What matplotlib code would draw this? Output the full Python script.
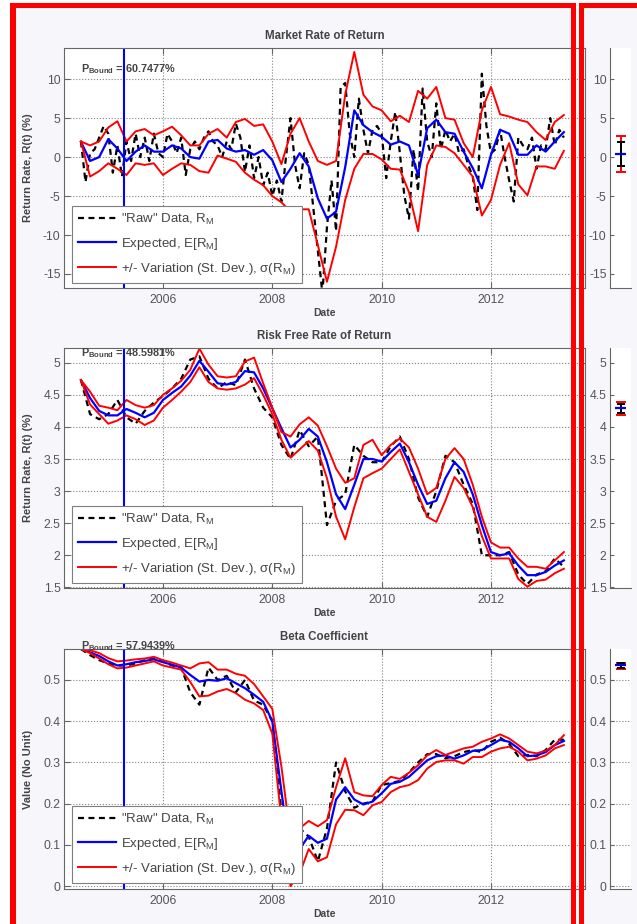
import numpy as np
import matplotlib
matplotlib.use("Agg")
import matplotlib.pyplot as plt
from matplotlib.patches import Rectangle
from matplotlib.lines import Line2D
from matplotlib.ticker import FuncFormatter
import matplotlib.transforms as mtransforms

plt.rcParams['font.family'] = ['Liberation Sans', 'DejaVu Sans']
plt.rcParams['mathtext.fontset'] = 'custom'
plt.rcParams['mathtext.rm'] = 'Liberation Sans'
plt.rcParams['mathtext.it'] = 'Liberation Sans:italic'
plt.rcParams['mathtext.bf'] = 'Liberation Sans:bold'
plt.rcParams['axes.unicode_minus'] = False

# Dates en annees decimales (mensuel pour la serie brute du marche, bimestriel sinon)
mois = 2004.5 + np.arange(107) / 12.0
bimois = 2004.5 + np.arange(54) / 6.0
date_borne = 2005.29

# --- Market Rate of Return ---
raw_mkt = [2.0, -3.2, 0.5, 1.0, 2.5, 4.0, 3.0, -2.0, 1.5, -2.5,
           2.0, -0.5, 3.0, 0.0, 2.5, -0.5, 3.0, 0.5, 0.0, 3.0,
           2.0, 0.5, 2.5, -2.3, 1.0, 2.0, 1.0, 2.5, 3.3, 2.0,
           1.5, 0.0, 2.0, 1.0, 4.3, 2.5, -1.9, 1.5, -2.7, 0.0,
           -3.6, -2.0, -5.0, -3.0, -5.7, 0.0, 5.0, -1.0, -4.0, 0.5,
           -1.0, -6.5, -12.0, -17.5, -9.0, -3.0, -9.5, 9.0, 9.5, 3.0,
           0.0, 7.5, 3.5, 0.5, 3.5, 4.0, 3.0, -2.7, 2.0, 5.8,
           0.5, -5.0, -7.9, 1.0, -4.4, 8.8, 2.0, 0.0, 6.9, 1.0,
           3.5, 2.0, 3.0, 0.5, 1.0, -1.0, -2.5, -6.8, 10.7, 4.0,
           0.5, 1.0, 3.5, 0.0, -3.0, -5.7, 2.5, 1.5, 1.0, 2.5,
           -1.5, 1.5, 1.0, 5.0, 1.5, 3.5, 2.5]
exp_mkt = [1.97, -0.5, 0.0, 2.3, 1.1, -0.5, 0.7, 1.5, 0.7, 0.7,
           1.5, 1.1, 0.0, -0.2, 2.0, 2.2, 1.1, 0.7, 0.9, 0.3,
           0.9, -0.4, -3.2, -1.5, 0.5, -1.2, -5.3, -7.9, -7.0, -1.3,
           6.0, 4.1, 3.2, 2.6, 1.6, 2.0, 1.5, -2.3, 3.7, 4.8,
           3.2, 3.0, 0.7, -1.4, -4.0, 0.3, 3.5, 3.0, 0.3, 0.3,
           1.5, 0.7, 2.0, 3.2]
up_mkt = [2.0, 1.5, 2.0, 3.8, 4.6, 2.0, 3.3, 3.6, 2.8, 3.3,
          3.9, 2.8, 1.5, 1.5, 3.0, 3.6, 2.5, 4.5, 4.9, 4.0,
          4.2, 2.0, -0.9, 3.0, 5.0, 2.0, -0.5, -1.0, -0.5, 8.0,
          13.5, 8.0, 6.5, 6.0, 4.6, 5.3, 4.5, 8.5, 7.5, 9.0,
          5.0, 4.8, 1.8, 0.0, 6.0, 9.0, 5.5, 5.2, 4.8, 4.5,
          3.2, 2.2, 4.5, 5.4]
low_mkt = [2.0, -2.5, -1.8, -0.8, -1.5, -2.3, -0.8, -1.0, -0.8, -2.3,
           -1.5, -0.8, -1.0, -1.8, -2.0, 0.2, -0.2, -0.6, -2.0, -2.9,
           -3.6, -5.0, -5.8, -7.0, -6.7, -6.7, -11.3, -16.0, -11.5, -5.5,
           -1.5, 0.4, 0.4, -0.3, -1.5, -1.6, -4.5, -9.5, -1.0, 1.5,
           1.3, 0.5, -1.0, -2.5, -7.5, -5.5, -1.0, 1.8, -3.5, -4.9,
           -1.2, -1.2, -1.5, 0.8]

# --- Risk Free Rate of Return ---
raw_rf = [4.73, 4.20, 4.12, 4.20, 4.42, 4.15, 4.05, 4.25, 4.38, 4.48,
          4.60, 4.75, 5.05, 5.10, 4.75, 4.60, 4.70, 4.65, 5.05, 4.60,
          4.30, 4.15, 3.72, 3.50, 3.95, 3.70, 3.85, 2.47, 2.85, 2.95,
          3.72, 3.55, 3.45, 3.45, 3.70, 3.85, 3.50, 2.90, 2.60, 3.00,
          3.55, 3.45, 3.10, 2.80, 2.00, 2.00, 2.00, 2.05, 1.70, 1.55,
          1.70, 1.75, 1.95, 1.82]
exp_rf = [4.73, 4.45, 4.25, 4.18, 4.18, 4.28, 4.22, 4.15, 4.22, 4.42,
          4.53, 4.63, 4.80, 5.03, 4.86, 4.68, 4.66, 4.70, 4.87, 4.85,
          4.60, 4.29, 3.98, 3.68, 3.80, 3.97, 3.85, 3.45, 2.95, 2.72,
          3.10, 3.50, 3.50, 3.46, 3.61, 3.74, 3.45, 3.10, 2.80, 2.85,
          3.20, 3.45, 3.30, 2.95, 2.47, 2.05, 2.00, 2.03, 1.84, 1.69,
          1.69, 1.74, 1.84, 1.92]
up_rf = [4.73, 4.55, 4.33, 4.30, 4.26, 4.42, 4.34, 4.30, 4.34, 4.50,
         4.60, 4.72, 4.89, 5.22, 4.97, 4.79, 4.77, 4.79, 5.02, 5.08,
         4.68, 4.30, 3.92, 3.85, 4.04, 4.15, 4.02, 3.70, 3.35, 3.13,
         3.20, 3.72, 3.80, 3.56, 3.72, 3.82, 3.68, 3.35, 2.95, 3.05,
         3.50, 3.67, 3.50, 3.10, 2.60, 2.20, 2.12, 2.12, 1.95, 1.82,
         1.82, 1.79, 1.92, 2.05]
low_rf = [4.73, 4.35, 4.20, 4.05, 4.10, 4.18, 4.12, 4.03, 4.10, 4.30,
          4.42, 4.55, 4.70, 4.93, 4.70, 4.60, 4.58, 4.60, 4.66, 4.76,
          4.50, 4.20, 3.80, 3.52, 3.65, 3.78, 3.63, 3.20, 2.60, 2.25,
          2.75, 3.20, 3.28, 3.35, 3.50, 3.65, 3.30, 2.95, 2.60, 2.52,
          2.85, 3.22, 3.05, 2.75, 2.30, 1.95, 1.95, 1.95, 1.63, 1.51,
          1.60, 1.62, 1.72, 1.79]

# --- Beta Coefficient ---
raw_beta = [0.575, 0.560, 0.548, 0.540, 0.535, 0.535, 0.540, 0.548, 0.552, 0.545,
            0.535, 0.530, 0.470, 0.440, 0.530, 0.500, 0.510, 0.470, 0.500, 0.450,
            0.440, 0.400, 0.180, 0.050, 0.140, 0.120, 0.060, 0.140, 0.300, 0.230,
            0.190, 0.200, 0.205, 0.245, 0.250, 0.255, 0.275, 0.300, 0.320, 0.320,
            0.310, 0.315, 0.325, 0.330, 0.325, 0.350, 0.360, 0.345, 0.315, 0.318,
            0.315, 0.330, 0.355, 0.355]
exp_beta = [0.575, 0.567, 0.558, 0.545, 0.535, 0.538, 0.543, 0.546, 0.550, 0.543,
            0.537, 0.530, 0.512, 0.496, 0.500, 0.498, 0.504, 0.492, 0.480, 0.464,
            0.447, 0.400, 0.230, 0.070, 0.090, 0.122, 0.105, 0.115, 0.210, 0.240,
            0.210, 0.198, 0.205, 0.225, 0.248, 0.253, 0.265, 0.285, 0.305, 0.315,
            0.317, 0.309, 0.317, 0.328, 0.330, 0.342, 0.355, 0.350, 0.334, 0.315,
            0.317, 0.325, 0.342, 0.352]
up_beta = [0.575, 0.572, 0.565, 0.553, 0.545, 0.547, 0.550, 0.552, 0.556, 0.548,
           0.542, 0.535, 0.528, 0.540, 0.543, 0.525, 0.525, 0.515, 0.510, 0.490,
           0.460, 0.430, 0.290, 0.120, 0.140, 0.158, 0.145, 0.160, 0.240, 0.310,
           0.228, 0.220, 0.218, 0.245, 0.265, 0.260, 0.275, 0.293, 0.317, 0.330,
           0.318, 0.326, 0.334, 0.338, 0.350, 0.358, 0.368, 0.358, 0.342, 0.326,
           0.322, 0.328, 0.342, 0.366]
low_beta = [0.575, 0.565, 0.552, 0.538, 0.528, 0.530, 0.535, 0.540, 0.545, 0.535,
            0.530, 0.525, 0.495, 0.460, 0.462, 0.472, 0.478, 0.468, 0.452, 0.443,
            0.427, 0.370, 0.160, 0.000, 0.030, 0.090, 0.060, 0.070, 0.150, 0.185,
            0.184, 0.172, 0.196, 0.204, 0.228, 0.240, 0.245, 0.257, 0.285, 0.301,
            0.305, 0.305, 0.297, 0.313, 0.313, 0.326, 0.334, 0.338, 0.326, 0.305,
            0.309, 0.317, 0.334, 0.342]

# Barres d'erreur des petits axes de droite: (bas, haut) et valeur centrale
sm_red = [(-1.9, 2.7), (4.19, 4.39), (0.527, 0.542)]
sm_black = [(-1.1, 1.95), (4.22, 4.36), (0.530, 0.540)]
sm_blue = [0.35, 4.30, 0.535]

titres = ['Market Rate of Return', 'Risk Free Rate of Return', 'Beta Coefficient']
ylabels = ['Return Rate, R(t) (%)', 'Return Rate, R(t) (%)', 'Value (No Unit)']
p_bound = ['60.7477%', '48.5981%', '57.9439%']
legendes = ['"Raw" Data, R$_\\mathrm{M}$', 'Expected, E[R$_\\mathrm{M}$]',
            '+/- Variation (St. Dev.), \u03c3(R$_\\mathrm{M}$)']

series = [
    (mois, raw_mkt, exp_mkt, up_mkt, low_mkt),
    (bimois, raw_rf, exp_rf, up_rf, low_rf),
    (bimois, raw_beta, exp_beta, up_beta, low_beta),
]
ylims = [(-16.8, 14.0), (1.49, 5.23), (-0.007, 0.575)]
yticks = [[-15, -10, -5, 0, 5, 10], [1.5, 2, 2.5, 3, 3.5, 4, 4.5, 5],
          [0, 0.1, 0.2, 0.3, 0.4, 0.5]]
tops = [48, 348, 649]
pb_y = [0.899, 0.964, 1.0]
leg_y = [0.021, 0.021, 0.025]

W, H = 637.0, 924.0
LAV = '#F7F7FB'
GRIS = '#555555'

fig = plt.figure(figsize=(W / 100, H / 100), dpi=100, facecolor='white')


def bande(x0, y0, x1, y1, couleur, z):
    fig.add_artist(Rectangle((x0 / W, 1 - y1 / H), (x1 - x0) / W, (y1 - y0) / H,
                             transform=fig.transFigure, facecolor=couleur,
                             edgecolor='none', zorder=z))


def axes_px(x0, y0, x1, y1):
    return fig.add_axes([x0 / W, 1 - y1 / H, (x1 - x0) / W, (y1 - y0) / H])


# fonds gris clair
bande(16, 8.3, 571, H, LAV, -10)
bande(583.5, 8.3, W, H, LAV, -10)
# cadres rouges (au dessus des axes)
for b in [(10, 3, 16, H), (10, 3, 576, 8.3), (571, 3, 576, H),
          (579, 3, W, 8.3), (579, 3, 583.5, H)]:
    bande(*b, '#FF0000', 20)

fmt = FuncFormatter(lambda v, p: '%g' % v)

for i in range(3):
    x_raw, raw, exp_, up, low = series[i]
    top = tops[i]
    ax = axes_px(64, top, 585, top + 240)
    ax.set_facecolor('white')

    l_raw, = ax.plot(x_raw, raw, color='black', lw=1.6, linestyle='--', dashes=(2.7, 2.0))
    l_exp, = ax.plot(bimois, exp_, color='#0000FF', lw=1.6)
    l_up, = ax.plot(bimois, up, color='#FF0000', lw=1.4)
    ax.plot(bimois, low, color='#FF0000', lw=1.4)
    ax.axvline(date_borne, color='#0000FF', lw=1.5)

    ax.set_xlim(2004.19, 2013.72)
    ax.set_ylim(*ylims[i])
    ax.set_xticks([2006, 2008, 2010, 2012])
    ax.set_yticks(yticks[i])
    ax.yaxis.set_major_formatter(fmt)
    ax.grid(True, linestyle=':', color='#808080', linewidth=0.8)
    ax.tick_params(direction='in', top=True, right=True, length=4, width=0.8,
                   color='#666666', labelcolor=GRIS, labelsize=8.8)
    ax.tick_params(axis='y', pad=2.5)
    ax.tick_params(axis='x', pad=4)
    for s in ax.spines.values():
        s.set_color('#666666')
        s.set_linewidth(0.8)

    ax.set_title(titres[i], fontsize=8.3, fontweight='bold', color='#444444', pad=6.5)
    ax.set_xlabel('Date', fontsize=7.5, fontweight='bold', color='#444444', labelpad=2)
    ax.set_ylabel(ylabels[i], fontsize=8.0, fontweight='bold', color='#444444')
    ax.yaxis.set_label_coords(-0.0595, 0.5)

    trans = mtransforms.blended_transform_factory(ax.transData, ax.transAxes)
    ax.text(bimois[0], pb_y[i], '$\\mathbf{P_{Bound}}$ = ' + p_bound[i], transform=trans,
            fontsize=7.8, fontweight='bold', color='#444444', ha='left', va='baseline',
            clip_on=False, zorder=5)

    leg = ax.legend([l_raw, l_exp, l_up], legendes, loc='lower left',
                    bbox_to_anchor=(0.0154, leg_y[i]), borderaxespad=0,
                    fancybox=False, framealpha=1, edgecolor='#7f7f7f',
                    fontsize=9.5, handlelength=2.9, handletextpad=0.35,
                    labelspacing=0.7, borderpad=0.45, labelcolor='#444444')
    leg.get_frame().set_linewidth(0.8)
    leg.set_zorder(10)

    # petit axe de droite
    sa = axes_px(610, top, 631, top + 240)
    sa.set_facecolor('white')
    lo, hi = sm_red[i]
    sa.errorbar([0], [sm_blue[i]], yerr=[[sm_blue[i] - lo], [hi - sm_blue[i]]],
                color='#FF0000', lw=1.4, capsize=3.5, capthick=1.4)
    lo, hi = sm_black[i]
    sa.errorbar([0], [sm_blue[i]], yerr=[[sm_blue[i] - lo], [hi - sm_blue[i]]],
                color='black', lw=1.4, capsize=3.0, capthick=1.4)
    sa.hlines([sm_blue[i]], -0.5, 0.5, color='#0000FF', lw=1.6, zorder=5)
    sa.set_xlim(-1, 1)
    sa.set_ylim(*ylims[i])
    sa.set_xticks([])
    sa.set_yticks(yticks[i])
    sa.yaxis.set_major_formatter(fmt)
    sa.tick_params(direction='in', length=3, width=0.8, color='#666666',
                   labelcolor=GRIS, labelsize=8.8, pad=2.5)
    for k in ['top', 'right']:
        sa.spines[k].set_visible(False)
    for k in ['left', 'bottom']:
        sa.spines[k].set_color('#666666')
        sa.spines[k].set_linewidth(0.8)
    if i == 2:
        sa.grid(True, axis='y', linestyle=':', color='#808080', linewidth=0.8)

fig.savefig('out.png', dpi=100, facecolor='white')
